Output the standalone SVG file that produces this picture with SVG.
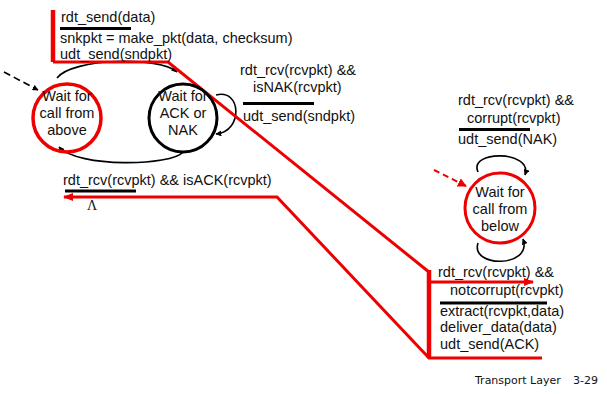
<svg xmlns="http://www.w3.org/2000/svg" width="607" height="394" viewBox="0 0 607 394">
<style>
text{font-family:"Liberation Sans",Arial,sans-serif;font-size:14.5px;fill:#111}
.c{text-anchor:middle}
.ul{stroke:#000;stroke-width:3}
.red{stroke:#e00;stroke-width:3;fill:none}
.bar{stroke:#e00;stroke-width:4.5;fill:none}
.blk{stroke:#000;stroke-width:1.6;fill:none}
.foot{font-family:"DejaVu Sans",sans-serif;font-size:11px}
</style>
<defs>
<marker id="ab" viewBox="0 0 10 10" refX="9" refY="5" markerWidth="6" markerHeight="6" orient="auto" markerUnits="userSpaceOnUse"><path d="M0,0L10,5L0,10z" fill="#000"/></marker>
<marker id="ar" viewBox="0 0 10 10" refX="9" refY="5" markerWidth="9" markerHeight="9" orient="auto" markerUnits="userSpaceOnUse"><path d="M0,0L10,5L0,10z" fill="#e00"/></marker>
<marker id="ar2" viewBox="0 0 10 10" refX="9" refY="5" markerWidth="12" markerHeight="10" orient="auto" markerUnits="userSpaceOnUse"><path d="M0,1L10,5L0,9z" fill="#e00"/></marker>
</defs>
<rect width="607" height="394" fill="#fff"/>

<g id="connectors">
<path class="blk" d="M57,78 C72,58 160,56 177,72" marker-end="url(#ab)"/>
<path class="blk" d="M183,152 C172,166 78,168 59,147" marker-end="url(#ab)"/>
<path class="blk" d="M216,95 C241,88 244,131 216,134" marker-end="url(#ab)"/>
<path class="blk" stroke-width="2" stroke-dasharray="7,4" d="M4,72 L38,90" marker-end="url(#ab)"/>
<path class="blk" d="M478,172 C468,150 533,150 525,175" marker-end="url(#ab)"/>
<path class="blk" d="M478,243 C470,268 533,268 523,239" marker-end="url(#ab)"/>
<path stroke="#e00" stroke-width="2" fill="none" stroke-dasharray="6,4" d="M434,170 L466,186" marker-end="url(#ar)"/>
<path class="bar" d="M53,10 L53,62"/>
<path class="red" d="M53,62 L168,62 L429,272"/>
<path class="bar" d="M429,270 L429,358"/>
<path class="red" d="M431,282 L533,282" marker-end="url(#ar2)"/>
<path class="red" d="M542,358 L429,358 L277,197 L64,197" marker-end="url(#ar2)"/>
</g>

<g id="sender-wait-call">
<circle cx="67" cy="118" r="34" fill="none" stroke="#e00" stroke-width="3.5"/>
<text class="c" x="67" y="101">Wait for</text>
<text class="c" x="67" y="118">call from</text>
<text class="c" x="67" y="135">above</text>
</g>

<g id="sender-wait-ack">
<circle cx="183" cy="118" r="34" fill="none" stroke="#000" stroke-width="3"/>
<text class="c" x="183" y="101">Wait for</text>
<text class="c" x="183" y="118">ACK or</text>
<text class="c" x="183" y="135">NAK</text>
</g>

<g id="receiver-wait-below">
<circle cx="500" cy="208" r="35" fill="none" stroke="#e00" stroke-width="3"/>
<text class="c" x="500" y="197">Wait for</text>
<text class="c" x="500" y="214">call from</text>
<text class="c" x="500" y="231">below</text>
</g>

<g id="labels">
<text x="61" y="22">rdt_send(data)</text>
<line class="ul" x1="60" y1="28.5" x2="131" y2="28.5"/>
<text x="60" y="43">snkpkt = make_pkt(data, checksum)</text>
<text x="60" y="59">udt_send(sndpkt)</text>

<text x="240" y="75">rdt_rcv(rcvpkt) &amp;&amp;</text>
<text x="253" y="92">isNAK(rcvpkt)</text>
<line class="ul" x1="243" y1="103.5" x2="314" y2="103.5"/>
<text x="243" y="121">udt_send(sndpkt)</text>

<text x="458" y="105">rdt_rcv(rcvpkt) &amp;&amp;</text>
<text x="467" y="123">corrupt(rcvpkt)</text>
<line class="ul" x1="459" y1="129.5" x2="530" y2="129.5"/>
<text x="458" y="144">udt_send(NAK)</text>

<text x="63" y="185">rdt_rcv(rcvpkt) &amp;&amp; isACK(rcvpkt)</text>
<line class="ul" x1="65" y1="191" x2="136" y2="191"/>
<text x="87" y="210" style="font-family:'Liberation Serif',serif;font-size:14px">Λ</text>

<text x="438" y="277">rdt_rcv(rcvpkt) &amp;&amp;</text>
<text x="450" y="295">notcorrupt(rcvpkt)</text>
<line class="ul" x1="440" y1="303" x2="547" y2="303"/>
<text x="440" y="316">extract(rcvpkt,data)</text>
<text x="440" y="332">deliver_data(data)</text>
<text x="440" y="349">udt_send(ACK)</text>

<text class="foot" x="475" y="384">Transport Layer</text>
<text class="foot" x="573" y="384">3-29</text>
</g>
</svg>
